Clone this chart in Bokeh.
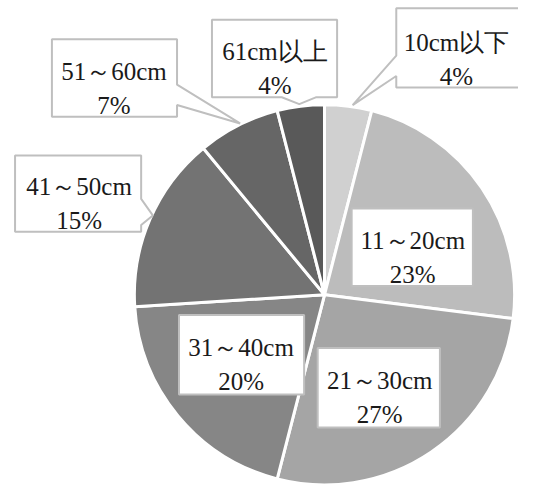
import math
from bokeh.plotting import figure
from bokeh.models import Range1d, ColumnDataSource
from bokeh.core.properties import value
from bokeh.embed import file_html
from bokeh.resources import INLINE

# ---- data ----
categories = ["10cm以下", "11～20cm", "21～30cm", "31～40cm", "41～50cm", "51～60cm", "61cm以上"]
values = [4, 23, 27, 20, 15, 7, 4]
pct_labels = ["4%", "23%", "27%", "20%", "15%", "7%", "4%"]
colors = ["#d0d0d0", "#bcbcbc", "#a5a5a5", "#868686", "#737373", "#666666", "#595959"]

H = 500
p = figure(width=518, height=484, output_backend="svg", toolbar_location=None,
           x_range=Range1d(0, 534), y_range=Range1d(0, 500), min_border=0)
p.axis.visible = False
p.grid.visible = False
p.outline_line_color = None
p.background_fill_color = "white"

def Y(y):
    return H - y

# pie
cx, cy, r = 334, 304, 196
total = sum(values)
starts, ends = [], []
acc = 0
for v in values:
    starts.append(math.pi / 2 - 2 * math.pi * acc / total)
    acc += v
    ends.append(math.pi / 2 - 2 * math.pi * acc / total)
src = ColumnDataSource(dict(start=starts, end=ends, color=colors, cat=categories))
p.wedge(x=cx, y=Y(cy), radius=r, start_angle="start", end_angle="end", direction="clock",
        fill_color="color", line_color="white", line_width=3, source=src)

# label boxes (reference pixel layout)
layout = [
    dict(box=(408, 8, 540, 90), ptr=("left", [(408, 78), (363, 108), (408, 57)]), cx=470, b1=43, b2=78),
    dict(box=(362, 215, 487, 295), ptr=None, cx=425, b1=248, b2=283),
    dict(box=(327, 359, 453, 441), ptr=None, cx=391, b1=393, b2=428),
    dict(box=(184, 325, 313, 407), ptr=None, cx=248, b1=358, b2=394),
    dict(box=(15, 160, 145, 239), ptr=("right", [(145, 205), (157, 222), (145, 232)]), cx=81, b1=192, b2=227),
    dict(box=(53, 40, 182, 120), ptr=("right", [(182, 87), (247, 127), (182, 108)]), cx=117, b1=73, b2=108),
    dict(box=(218, 20, 347, 100), ptr=("bottom", [(325, 100), (308, 107), (290, 100)]), cx=283, b1=53, b2=88),
]

xs_list, ys_list = [], []
for L in layout:
    x0, y0, x1, y1 = L["box"]
    ptr = L["ptr"]
    pts = [(x0, y0), (x1, y0)]
    if ptr and ptr[0] == "right":
        pts += ptr[1]
    pts.append((x1, y1))
    if ptr and ptr[0] == "bottom":
        pts += ptr[1]
    pts.append((x0, y1))
    if ptr and ptr[0] == "left":
        pts += ptr[1]
    xs_list.append([q[0] for q in pts])
    ys_list.append([Y(q[1]) for q in pts])

p.patches(xs=xs_list, ys=ys_list, fill_color="white", line_color="#bfbfbf", line_width=2)

font = value("Liberation Serif")
tx = [L["cx"] for L in layout]
p.text(x=tx, y=[Y(L["b1"]) for L in layout], text=categories, text_font=font,
       text_font_size="25px", text_align="center", text_baseline="alphabetic", text_color="#1a1a1a")
p.text(x=tx, y=[Y(L["b2"]) for L in layout], text=pct_labels, text_font=font,
       text_font_size="25px", text_align="center", text_baseline="alphabetic", text_color="#1a1a1a")

open("out.html", "w").write(file_html(p, INLINE))
